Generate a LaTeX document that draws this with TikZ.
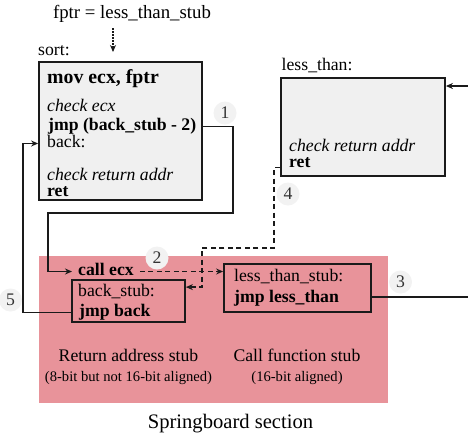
\documentclass[tikz,border=0pt]{standalone}
\usepackage{fontspec}
\setmainfont{Liberation Serif}
\usetikzlibrary{arrows.meta}
\definecolor{boxgray}{HTML}{F0F0F0}
\definecolor{pinkbg}{HTML}{E8939A}
\definecolor{edge}{HTML}{1A1A1A}
\definecolor{numbg}{HTML}{F2F2F2}
\definecolor{numfg}{HTML}{333333}
\begin{document}
\begin{tikzpicture}[x=1pt,y=-1pt,
  txt/.style={inner sep=0pt, anchor=base west, font=\fontsize{17.7}{18}\selectfont, text height=11pt, text depth=4pt},
  smalltxt/.style={inner sep=0pt, anchor=base, font=\fontsize{14.6}{15}\selectfont},
  codebox/.style={draw=edge, line width=1.8pt, fill=boxgray, inner sep=0pt},
  stubbox/.style={draw=edge, line width=1.8pt, inner sep=0pt},
  pinkbox/.style={fill=pinkbg, inner sep=0pt, minimum width=349pt, minimum height=147pt},
  conn/.style={draw=edge, line width=1.4pt},
  arr/.style={-{Stealth[length=7pt,width=6pt]}},
  dashline/.style={dash pattern=on 5pt off 3.5pt},
  dotline/.style={dash pattern=on 1.5pt off 1.5pt},
  num/.style={circle, fill=numbg, minimum size=23pt, inner sep=0pt, text=numfg, font=\fontsize{17.7}{18}\selectfont}
]
\useasboundingbox (0,0) rectangle (468,437);

% backgrounds and boxes
\node[pinkbox] (spring) at (213.5,329.5) {};
\node[codebox, minimum width=163pt, minimum height=138pt] (sortbox) at (120.5,131) {};
\node[codebox, minimum width=164pt, minimum height=98pt] (lessbox) at (363,127) {};
\node[stubbox, minimum width=113pt, minimum height=42pt] (backstub) at (128.5,301) {};
\node[stubbox, minimum width=147pt, minimum height=48pt] (ltstub) at (297.5,288) {};

% texts
\node[txt, anchor=base, font=\fontsize{18.8}{19}\selectfont] (fptr) at (132,18) {fptr = less\_than\_stub};
\node[txt] (sortlbl) at (38,55) {sort:};
\node[txt, font=\fontsize{19.8}{20}\selectfont] (mov) at (47,83.5) {\textbf{mov ecx, fptr}};
\node[txt] (chk1) at (47,111) {\textit{check ecx}};
\node[txt] (jmp) at (48,130) {\textbf{jmp (back\_stub - 2)}};
\node[txt] (backl) at (47,147) {back:};
\node[txt] (chk2) at (47,180) {\textit{check return addr}};
\node[txt] (ret1) at (47,196) {\textbf{ret}};
\node[txt] (lesslbl) at (281.5,70) {less\_than:};
\node[txt] (chk3) at (289,151) {\textit{check return addr}};
\node[txt] (ret2) at (289,167.7) {\textbf{ret}};
\node[txt, inner xsep=6pt] (callecx) at (72,275) {\textbf{call ecx}};
\node[txt] (bsl) at (78,296) {back\_stub:};
\node[txt] (jmpback) at (79,316) {\textbf{jmp back}};
\node[txt] (ltsl) at (234,281.7) {less\_than\_stub:};
\node[txt] (ltjmp) at (234,302.7) {\textbf{jmp less\_than}};
\node[txt, anchor=base] (ras) at (128.5,361.7) {Return address stub};
\node[smalltxt] (ras2) at (128.5,381.7) {(8-bit but not 16-bit aligned)};
\node[txt, anchor=base] (cfs) at (297,361.7) {Call function stub};
\node[smalltxt] (cfs2) at (297,381.7) {(16-bit aligned)};
\node[txt, anchor=base, font=\fontsize{20.6}{22}\selectfont] (sbs) at (230.5,428) {Springboard section};

% helper coordinates
\coordinate (fa) at (113,28);
\coordinate (fb) at (113,52);
\coordinate (c1) at (233,213);
\coordinate (c1b) at (48,213);
\coordinate (c5) at (23,143.5);
\coordinate (d1) at (274,248);
\coordinate (d2) at (202,248);
\coordinate (ltin) at (468,86);
\coordinate (ltout) at (468,297);

% connectors
\draw[conn, dotline, arr] (fa) -- (fb);
\draw[conn, arr] (jmp -| sortbox.east) -| (c1) -- (c1b) |- (callecx.west);
\draw[conn, arr] (backstub.west |- jmpback) -| (c5) -- (sortbox.west |- backl);
\draw[conn, dashline, arr] (callecx.east) -- (callecx.east -| ltstub.west);
\draw[conn, dashline, arr] (lessbox.west |- ret2.base) -| (d1) -- (d2) |- ([yshift=-8pt]backstub.north east);
\draw[conn, arr] (ltin) -- (lessbox.east |- ltin);
\draw[conn] (ltstub.east |- ltout) -- (ltout);

% step numbers
\node[num] (n1) at (225,113) {1};
\node[num] (n2) at (157,258) {2};
\node[num] (n3) at (400.5,282) {3};
\node[num] (n4) at (288,194) {4};
\node[num] (n5) at (10.5,300) {5};
\end{tikzpicture}
\end{document}
